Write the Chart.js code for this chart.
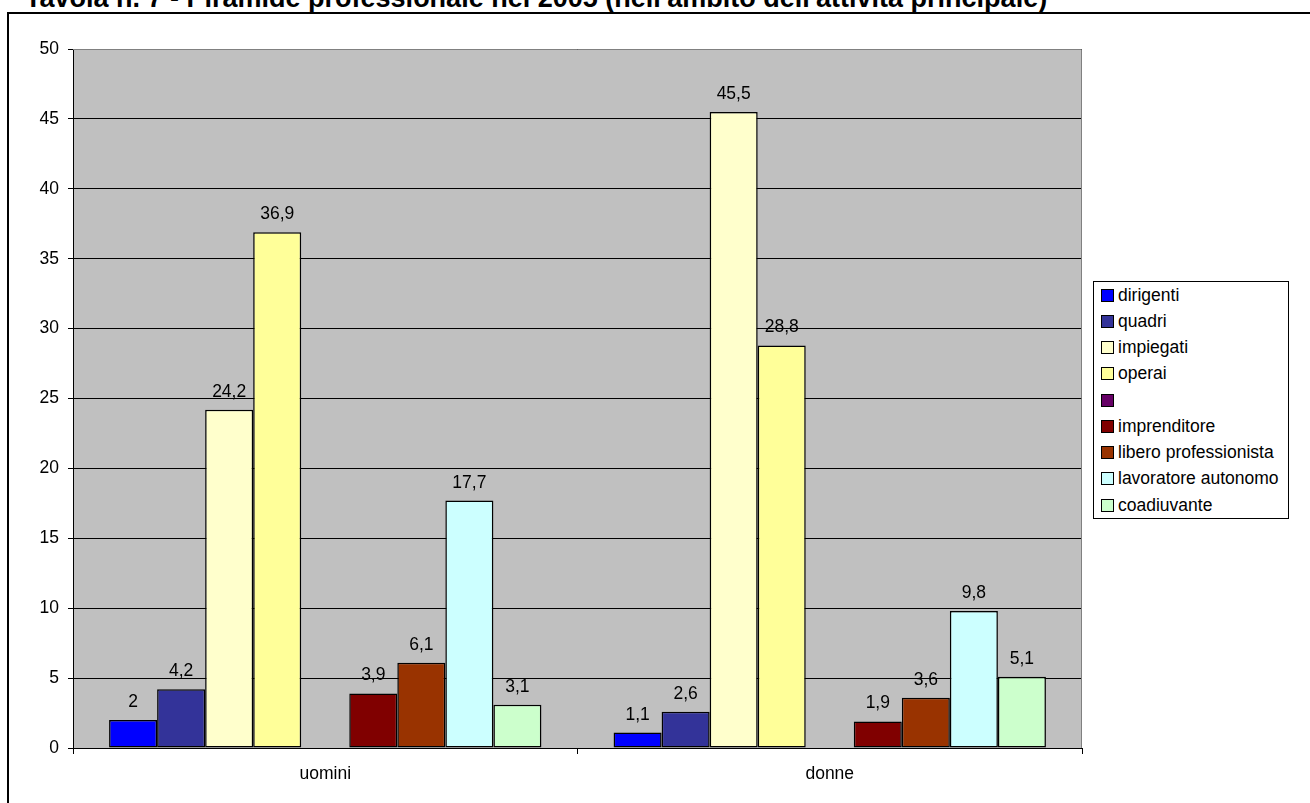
<!DOCTYPE html>
<html>
<head>
<meta charset="utf-8">
<script src="https://cdn.jsdelivr.net/npm/chart.js@4.4.1/dist/chart.umd.min.js"></script>
<style>
  html, body { margin: 0; padding: 0; background: #fff; overflow: hidden; }
  #wrap { position: relative; width: 1310px; height: 803px; overflow: hidden; font-family: Arial, "Liberation Sans", sans-serif; }
  #title { position: absolute; left: 25px; top: -15px; font-weight: bold; font-size: 27px; white-space: nowrap; color: #000; line-height: 27px; }
  #frame { position: absolute; left: 7px; top: 12px; width: 1400px; height: 900px; border-top: 2px solid #000; border-left: 2px solid #000; }
  #chart { position: absolute; left: 0; top: 0; }
  #legend { position: absolute; left: 1093px; top: 281px; width: 194px; height: 236px; border: 1px solid #000; background: #fff; box-sizing: content-box; }
  .item { height: 26.25px; display: flex; align-items: center; font-size: 17.5px; color: #000; padding-left: 7px; }
  .sw { width: 11px; height: 11px; border: 1px solid #000; margin-right: 4px; flex: none; }
</style>
</head>
<body>
<div id="wrap">
  <div id="title">Tavola n. 7 - Piramide professionale nel 2005 (nell'ambito dell'attività principale)</div>
  <div id="frame"></div>
  <canvas id="chart" width="1310" height="803"></canvas>
  <div id="legend"></div>
</div>
<script>
// Categories and series (percentages)
const categories = ['uomini', 'donne'];
const seriesNames = ['dirigenti', 'quadri', 'impiegati', 'operai', '', 'imprenditore', 'libero professionista', 'lavoratore autonomo', 'coadiuvante'];
const seriesColors = ['#0000FF', '#333399', '#FFFFCC', '#FFFF99', '#660066', '#800000', '#993300', '#CCFFFF', '#CCFFCC'];

const dirigenti    = [2, 1.1];
const quadri       = [4.2, 2.6];
const impiegati    = [24.2, 45.5];
const operai       = [36.9, 28.8];
const vuoto        = [null, null];
const imprenditore = [3.9, 1.9];
const libero       = [6.1, 3.6];
const lavoratore   = [17.7, 9.8];
const coadiuvante  = [3.1, 5.1];

const yTicks = [0, 5, 10, 15, 20, 25, 30, 35, 40, 45, 50];

const seriesValues = [dirigenti, quadri, impiegati, operai, vuoto, imprenditore, libero, lavoratore, coadiuvante];

const FONT = 'Arial, "Liberation Sans", sans-serif';

const datasets = seriesNames.map((name, i) => ({
  label: name,
  data: seriesValues[i],
  backgroundColor: seriesColors[i],
  borderColor: '#000',
  borderWidth: 1.5,
  borderSkipped: false,
  barPercentage: 1.0,
  categoryPercentage: 0.857
}));

// Grey plot area with a grey frame
const plotArea = {
  id: 'plotArea',
  beforeDraw(chart) {
    const { ctx, chartArea: a } = chart;
    ctx.save();
    ctx.fillStyle = '#C0C0C0';
    ctx.fillRect(a.left, a.top, a.right - a.left, a.bottom - a.top);
    ctx.restore();
  },
  beforeDatasetsDraw(chart) {
    const { ctx, chartArea: a } = chart;
    ctx.save();
    ctx.strokeStyle = '#808080';
    ctx.lineWidth = 1;
    ctx.beginPath();
    ctx.moveTo(a.left, a.top + 0.5);
    ctx.lineTo(a.right - 0.5, a.top + 0.5);
    ctx.lineTo(a.right - 0.5, a.bottom);
    ctx.stroke();
    ctx.restore();
  }
};

// Value labels above each bar, with comma decimals
const valueLabels = {
  id: 'valueLabels',
  afterDatasetsDraw(chart) {
    const { ctx } = chart;
    ctx.save();
    ctx.font = '17.5px ' + FONT;
    ctx.fillStyle = '#000';
    ctx.textAlign = 'center';
    ctx.textBaseline = 'alphabetic';
    chart.data.datasets.forEach((ds, di) => {
      const meta = chart.getDatasetMeta(di);
      meta.data.forEach((bar, j) => {
        const v = ds.data[j];
        if (v === null || v === undefined) return;
        ctx.fillText(String(v).replace('.', ','), bar.x, bar.y - 13);
      });
    });
    ctx.restore();
  }
};

new Chart(document.getElementById('chart'), {
  type: 'bar',
  data: { labels: categories, datasets },
  options: {
    responsive: false,
    animation: false,
    layout: { padding: { left: 9, top: 49, right: 228, bottom: 0 } },
    plugins: { legend: { display: false }, tooltip: { enabled: false }, title: { display: false } },
    scales: {
      x: {
        grid: { offset: true, drawOnChartArea: false, color: '#000', tickLength: 6, lineWidth: 1 },
        border: { color: '#000', width: 1 },
        ticks: { color: '#000', font: { family: FONT, size: 17.5 }, padding: 10 },
        afterFit(s) { s.height = 55; }
      },
      y: {
        min: 0, max: 50,
        afterBuildTicks(s) { s.ticks = yTicks.map(v => ({ value: v })); },
        grid: { color: '#000', tickLength: 5, lineWidth: 1 },
        border: { color: '#000', width: 1 },
        ticks: { color: '#000', font: { family: FONT, size: 17.5 }, padding: 9 },
        afterFit(s) { s.width = 64; }
      }
    }
  },
  plugins: [plotArea, valueLabels]
});

// Legend box
const legend = document.getElementById('legend');
seriesNames.forEach((name, i) => {
  const row = document.createElement('div');
  row.className = 'item';
  const sw = document.createElement('span');
  sw.className = 'sw';
  sw.style.background = seriesColors[i];
  const tx = document.createElement('span');
  tx.textContent = name;
  row.appendChild(sw);
  row.appendChild(tx);
  legend.appendChild(row);
});
</script>
</body>
</html>
